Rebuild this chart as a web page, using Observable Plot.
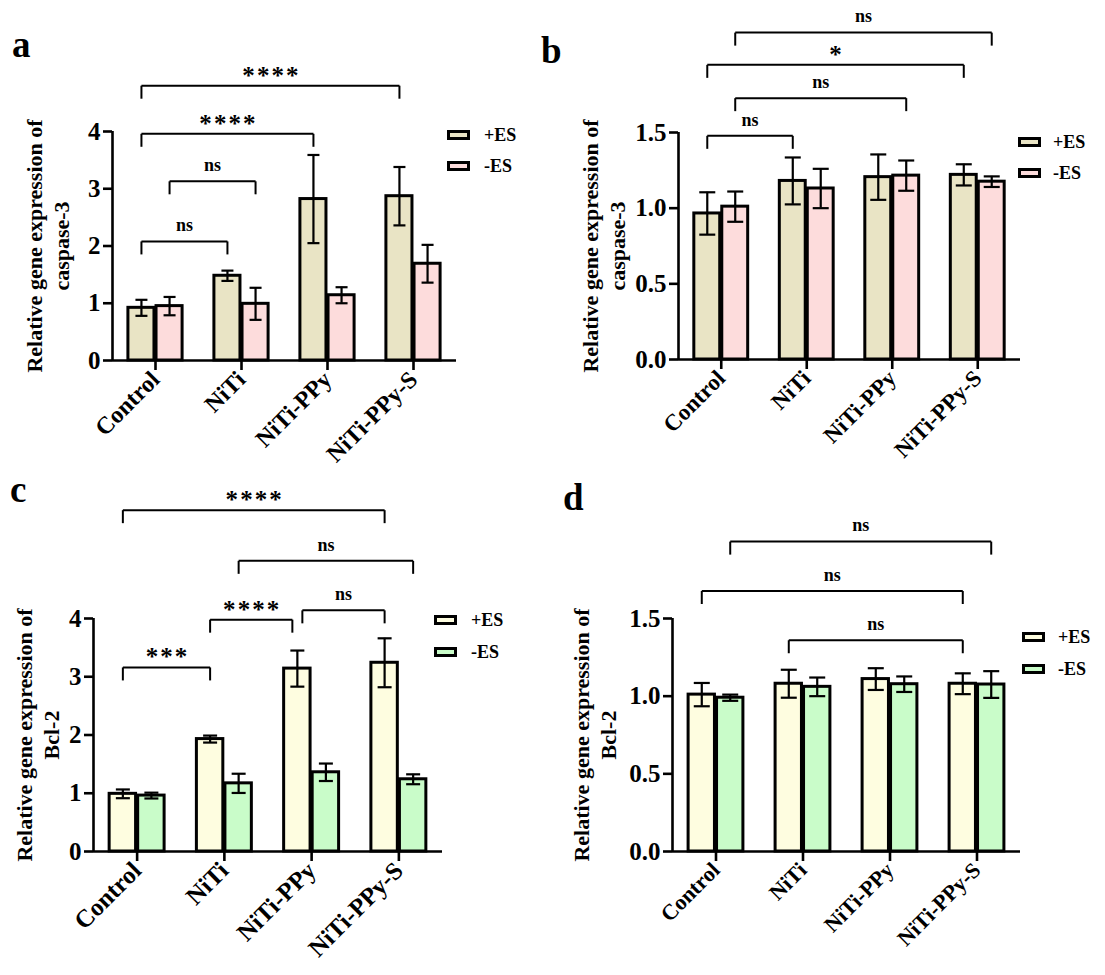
<!DOCTYPE html>
<html>
<head>
<meta charset="utf-8">
<script src="https://cdn.jsdelivr.net/npm/d3@7"></script>
<script src="https://cdn.jsdelivr.net/npm/@observablehq/plot@0.6"></script>
<style>
  html, body { margin: 0; padding: 0; background: #fff; }
  #fig { position: relative; width: 1105px; height: 975px; overflow: hidden; background: #fff; }
  .panel { position: absolute; }
  #overlay { position: absolute; left: 0; top: 0; pointer-events: none; }
</style>
</head>
<body>
<div id="fig">
  <div class="panel" id="pa" style="left:0px;top:0px"></div>
  <div class="panel" id="pb" style="left:550px;top:0px"></div>
  <div class="panel" id="pc" style="left:0px;top:475px"></div>
  <div class="panel" id="pd" style="left:550px;top:475px"></div>
</div>
<script>
// ---------------- data ----------------
const categories = ["Control", "NiTi", "NiTi-PPy", "NiTi-PPy-S"];
const seriesNames = ["+ES", "-ES"];

// panel a – caspase-3
const caspA_plus      = [0.92, 1.48, 2.82, 2.87];
const caspA_plusErr   = [0.14, 0.09, 0.77, 0.51];
const caspA_minus     = [0.95, 0.99, 1.14, 1.69];
const caspA_minusErr  = [0.16, 0.28, 0.14, 0.33];
// panel b – caspase-3
const caspB_plus      = [0.965, 1.18, 1.205, 1.22];
const caspB_plusErr   = [0.14, 0.155, 0.15, 0.07];
const caspB_minus     = [1.01, 1.13, 1.215, 1.175];
const caspB_minusErr  = [0.10, 0.13, 0.10, 0.035];
// panel c – Bcl-2
const bclC_plus       = [0.99, 1.93, 3.14, 3.24];
const bclC_plusErr    = [0.075, 0.06, 0.31, 0.42];
const bclC_minus      = [0.96, 1.17, 1.36, 1.24];
const bclC_minusErr   = [0.05, 0.165, 0.15, 0.085];
// panel d – Bcl-2
const bclD_plus       = [1.01, 1.08, 1.11, 1.08];
const bclD_plusErr    = [0.075, 0.09, 0.07, 0.067];
const bclD_minus      = [0.99, 1.06, 1.077, 1.075];
const bclD_minusErr   = [0.02, 0.06, 0.05, 0.086];

// y-axis ticks
const yTicksWide = [0, 1, 2, 3, 4];
const yTicksNarrow = [0, 0.5, 1.0, 1.5];

// significance brackets: [from group, from series, to group, to series, level, label]
const bracketsA = [
  ["Control", "+ES", "NiTi", "+ES", 2.08, "ns"],
  ["Control", "-ES", "NiTi", "-ES", 3.13, "ns"],
  ["Control", "+ES", "NiTi-PPy", "+ES", 3.96, "****"],
  ["Control", "+ES", "NiTi-PPy-S", "+ES", 4.80, "****"]
];
const bracketsB = [
  ["Control", "+ES", "NiTi", "+ES", 1.478, "ns"],
  ["Control", "-ES", "NiTi-PPy", "-ES", 1.727, "ns"],
  ["Control", "+ES", "NiTi-PPy-S", "+ES", 1.947, "*"],
  ["Control", "-ES", "NiTi-PPy-S", "-ES", 2.16, "ns"]
];
const bracketsC = [
  ["Control", "+ES", "NiTi", "+ES", 3.16, "***"],
  ["NiTi", "+ES", "NiTi-PPy", "+ES", 3.98, "****"],
  ["NiTi-PPy", "+ES", "NiTi-PPy-S", "+ES", 4.14, "ns"],
  ["NiTi", "-ES", "NiTi-PPy-S", "-ES", 4.99, "ns"],
  ["Control", "+ES", "NiTi-PPy-S", "+ES", 5.86, "****"]
];
const bracketsD = [
  ["NiTi", "+ES", "NiTi-PPy-S", "+ES", 1.36, "ns"],
  ["Control", "+ES", "NiTi-PPy-S", "+ES", 1.677, "ns"],
  ["Control", "-ES", "NiTi-PPy-S", "-ES", 1.995, "ns"]
];

// ---------------- drawing ----------------
const FONT = "'Liberation Serif', 'Times New Roman', Times, serif";

function drawPanel(cfg) {
  const {plus, plusErr, minus, minusErr, colors, ymax, yticks, yfmt, gene, brackets,
         W, H, ml, mr, mt, mb, xFont, yFont, capPx, titleDx, nudges} = cfg;
  const innerW = W - ml - mr, innerH = H - mt - mb;
  const pxX = innerW / 4, pxY = innerH / ymax;
  const half = 0.315, gap = 0.012, off = (half + gap) / 2;
  const rows = categories.flatMap((c, i) => [
    {i, s: 0, v: plus[i], e: plusErr[i]},
    {i, s: 1, v: minus[i], e: minusErr[i]}
  ]);
  const cx = d => d.i + (d.s ? off : -off);
  const posX = (cat, s) => categories.indexOf(cat) + (s === seriesNames[0] ? -off : off);
  const cap = capPx / 2 / pxX;
  const legLen = 13 / pxY;
  const br = brackets.map((b, k) => {
    const n = (nudges && nudges[k]) || [0, 0];
    return {x1: posX(b[0], b[1]) + n[0] / pxX, x2: posX(b[2], b[3]) + n[1] / pxX, y: b[4], label: b[5]};
  });
  const legs = br.flatMap(b => [{x: b.x1, y: b.y}, {x: b.x2, y: b.y}]);
  const starText = s => s.split("").join("\u200A");
  return Plot.plot({
    width: W, height: H,
    marginLeft: ml, marginRight: mr, marginTop: mt, marginBottom: mb,
    style: {fontFamily: FONT, fontWeight: "bold", color: "#000", background: "transparent"},
    x: {type: "linear", domain: [-0.5, 3.5]},
    y: {type: "linear", domain: [0, ymax]},
    marks: [
      Plot.rect(rows.filter(d => d.s === 0), {x1: d => d.i - half, x2: d => d.i - gap, y1: () => 0, y2: "v",
        fill: colors[0], stroke: "#000", strokeWidth: 3}),
      Plot.rect(rows.filter(d => d.s === 1), {x1: d => d.i + gap, x2: d => d.i + half, y1: () => 0, y2: "v",
        fill: colors[1], stroke: "#000", strokeWidth: 3}),
      Plot.ruleX(rows, {x: cx, y1: d => d.v - d.e, y2: d => d.v + d.e, stroke: "#000", strokeWidth: 2.2}),
      Plot.link(rows, {x1: d => cx(d) - cap, x2: d => cx(d) + cap, y1: d => d.v + d.e, y2: d => d.v + d.e, stroke: "#000", strokeWidth: 2.2}),
      Plot.link(rows, {x1: d => cx(d) - cap, x2: d => cx(d) + cap, y1: d => d.v - d.e, y2: d => d.v - d.e, stroke: "#000", strokeWidth: 2.2}),
      Plot.ruleY([0], {stroke: "#000", strokeWidth: 2.6}),
      Plot.ruleX([-0.5], {y1: 0, y2: ymax, stroke: "#000", strokeWidth: 2.6}),
      Plot.axisY({ticks: yticks, tickFormat: yfmt, tickSize: 9, tickPadding: 3, fontSize: yFont,
        stroke: "#000", strokeWidth: 2.6, label: null}),
      Plot.axisX({ticks: [0, 1, 2, 3], tickFormat: i => categories[i], tickRotate: -45, tickSize: 10,
        tickPadding: 5, fontSize: xFont, stroke: "#000", strokeWidth: 2.6, label: null}),
      Plot.text([`Relative gene expression of\n${gene}`], {frameAnchor: "left", textAnchor: "middle",
        rotate: -90, dx: titleDx, fontSize: 22, lineHeight: 1.22, fill: "#000"}),
      Plot.link(br, {x1: "x1", x2: "x2", y1: "y", y2: "y", stroke: "#000", strokeWidth: 2}),
      Plot.link(legs, {x1: "x", x2: "x", y1: "y", y2: d => d.y - legLen, stroke: "#000", strokeWidth: 2}),
      Plot.text(br.filter(b => b.label === "ns"), {x: b => (b.x1 + b.x2) / 2, y: "y", text: "label",
        dy: -16, fontSize: 18, fill: "#000"}),
      Plot.text(br.filter(b => b.label !== "ns"), {x: b => (b.x1 + b.x2) / 2, y: "y", text: b => starText(b.label),
        dy: -10, fontSize: 25, fill: "#000"})
    ]
  });
}

const colAB = ["#e9e4c5", "#fddcdc"];
const colCD = ["#fefde0", "#c9fcc9"];
const fmtInt = d3.format("d");
const fmtOne = d => d.toFixed(1);

document.getElementById("pa").appendChild(drawPanel({
  plus: caspA_plus, plusErr: caspA_plusErr, minus: caspA_minus, minusErr: caspA_minusErr,
  colors: colAB, ymax: 4, yticks: yTicksWide, yfmt: fmtInt, gene: "caspase-3", brackets: bracketsA,
  W: 550, H: 475, ml: 112, mr: 94, mt: 131, mb: 115, xFont: 24, yFont: 25, capPx: 12, titleDx: -66
}));
document.getElementById("pb").appendChild(drawPanel({
  plus: caspB_plus, plusErr: caspB_plusErr, minus: caspB_minus, minusErr: caspB_minusErr,
  colors: colAB, ymax: 1.5, yticks: yTicksNarrow, yfmt: fmtOne, gene: "caspase-3", brackets: bracketsB,
  W: 555, H: 475, ml: 128, mr: 85, mt: 132, mb: 116, xFont: 23, yFont: 25, capPx: 16, titleDx: -76
}));
document.getElementById("pc").appendChild(drawPanel({
  plus: bclC_plus, plusErr: bclC_plusErr, minus: bclC_minus, minusErr: bclC_minusErr,
  colors: colCD, ymax: 4, yticks: yTicksWide, yfmt: fmtInt, gene: "Bcl-2", brackets: bracketsC,
  W: 550, H: 500, ml: 93, mr: 108, mt: 143, mb: 124, xFont: 25, yFont: 25, capPx: 14, titleDx: -57,
  nudges: {1: [0, -5], 2: [5, 0]}
}));
document.getElementById("pd").appendChild(drawPanel({
  plus: bclD_plus, plusErr: bclD_plusErr, minus: bclD_minus, minusErr: bclD_minusErr,
  colors: colCD, ymax: 1.5, yticks: yTicksNarrow, yfmt: fmtOne, gene: "Bcl-2", brackets: bracketsD,
  W: 555, H: 500, ml: 122, mr: 85, mt: 143, mb: 124, xFont: 22, yFont: 25, capPx: 16, titleDx: -79
}));

// ---------------- overlay: panel letters and legends ----------------
const svg = d3.select("#fig").append("svg").attr("id", "overlay")
  .attr("width", 1105).attr("height", 975)
  .style("font-family", FONT).style("font-weight", "bold");

const letters = [
  {t: "a", x: 12, y: 57}, {t: "b", x: 541, y: 63},
  {t: "c", x: 10, y: 502}, {t: "d", x: 563, y: 510}
];
svg.selectAll("text.letter").data(letters).join("text").attr("class", "letter")
  .attr("x", d => d.x).attr("y", d => d.y).attr("font-size", 37).attr("fill", "#000").text(d => d.t);

const legends = [
  {x: 447, y: [130, 161], tx: 484, colors: colAB},
  {x: 1018, y: [137, 168], tx: 1053, colors: colAB},
  {x: 434, y: [615, 647], tx: 471, colors: colCD},
  {x: 1022, y: [632, 664], tx: 1058, colors: colCD}
];
legends.forEach(L => {
  seriesNames.forEach((s, k) => {
    svg.append("rect").attr("x", L.x + 1.5).attr("y", L.y[k] + 1.5).attr("width", 20).attr("height", 7)
      .attr("fill", L.colors[k]).attr("stroke", "#000").attr("stroke-width", 3);
    svg.append("text").attr("x", L.tx).attr("y", L.y[k] + 5).attr("dy", "0.35em")
      .attr("font-size", 18).attr("fill", "#000").text(s);
  });
});
</script>
</body>
</html>
